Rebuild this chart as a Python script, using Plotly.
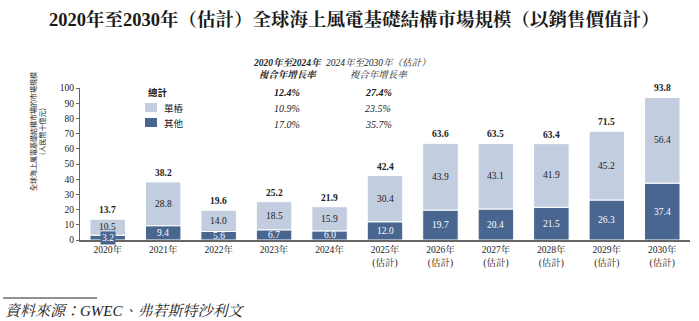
import plotly.graph_objects as go

years = ["2020年", "2021年", "2022年", "2023年", "2024年", "2025年<br>(估計)", "2026年<br>(估計)",
         "2027年<br>(估計)", "2028年<br>(估計)", "2029年<br>(估計)", "2030年<br>(估計)"]
other = [3.2, 9.4, 5.6, 6.7, 6.0, 12.0, 19.7, 20.4, 21.5, 26.3, 37.4]
monopile = [10.5, 28.8, 14.0, 18.5, 15.9, 30.4, 43.9, 43.1, 41.9, 45.2, 56.4]
totals = [13.7, 38.2, 19.6, 25.2, 21.9, 42.4, 63.6, 63.5, 63.4, 71.5, 93.8]

cagr_headers = ["2020年至2024年<br>複合年增長率", "2024年至2030年（估計）<br>複合年增長率"]
cagr_total = ["12.4%", "27.4%"]
cagr_mono = ["10.9%", "23.5%"]
cagr_other = ["17.0%", "35.7%"]

DARK = "#48668f"
LIGHT = "#c3cde0"
SERIF = "Liberation Serif, Noto Serif CJK TC, Noto Sans CJK TC, serif"
CJK = "Noto Sans CJK TC, Liberation Serif, serif"

fig = go.Figure()
fig.add_bar(x=years, y=other, name="其他", marker=dict(color=DARK, line=dict(color="white", width=1)),
            width=0.64, hoverinfo="skip")
fig.add_bar(x=years, y=monopile, name="單樁", base=other,
            marker=dict(color=LIGHT, line=dict(color="white", width=1)), width=0.64, hoverinfo="skip")

ann = []
for i, yr in enumerate(years):
    a = dict(x=yr, y=other[i] / 2, text=f"{other[i]:.1f}", showarrow=False,
             font=dict(family=SERIF, size=9.5, color="white"), xref="x", yref="y")
    if other[i] < 5:
        a.update(bgcolor=DARK, borderpad=1)
    ann.append(a)
    ann.append(dict(x=yr, y=other[i] + monopile[i] / 2, text=f"{monopile[i]:.1f}", showarrow=False,
                    font=dict(family=SERIF, size=9.5, color="#222"), xref="x", yref="y"))
    ann.append(dict(x=yr, y=totals[i], text=f"<b>{totals[i]:.1f}</b>", showarrow=False, yshift=9,
                    font=dict(family=SERIF, size=9.5, color="#222"), xref="x", yref="y"))

def px(xp, yp):
    return (xp - 80) / 610, (240 - yp) / 152

# title
ann.append(dict(x=px(354, 0)[0], xref="paper", y=px(0, 20)[1], yref="paper", showarrow=False,
                text="<b>2020年至2030年（估計）全球海上風電基礎結構市場規模（以銷售價值計）</b>",
                font=dict(family=SERIF, size=18.5, color="#1a1a1a"), xanchor="center", yanchor="middle"))

# CAGR table
for j, cx in enumerate([287, 378]):
    x0, _ = px(cx, 0)
    hdr = cagr_headers[j]
    if j == 0:
        hdr = "<b>" + hdr.replace("<br>", "</b><br><b>") + "</b>"
    ann.append(dict(x=x0, xref="paper", y=px(0, 68)[1], yref="paper", showarrow=False,
                    text="<i>" + hdr + "</i>", font=dict(family=SERIF, size=9.5, color="#222"),
                    xanchor="center", yanchor="middle"))
    for val, yp, bold in [(cagr_total[j], 92, True), (cagr_mono[j], 108, False), (cagr_other[j], 124, False)]:
        t = f"<i>{val}</i>"
        if bold:
            t = f"<b>{t}</b>"
        ann.append(dict(x=x0, xref="paper", y=px(0, yp)[1], yref="paper", showarrow=False,
                        text=t, font=dict(family=SERIF, size=10, color="#222"),
                        xanchor="center", yanchor="middle"))

# legend
ann.append(dict(x=px(146, 0)[0], xref="paper", y=px(0, 92)[1], yref="paper", showarrow=False,
                text="<b>總計</b>", font=dict(family=CJK, size=9.5, color="#222"), xanchor="left", yanchor="middle"))
shapes = []
for name, col, yp in [("單樁", LIGHT, 107.5), ("其他", DARK, 122.5)]:
    xa, ya = px(145, yp - 4.5)
    xb, yb = px(157, yp + 4.5)
    shapes.append(dict(type="rect", xref="paper", yref="paper", x0=xa, x1=xb, y0=yb, y1=ya,
                       fillcolor=col, line=dict(width=0)))
    ann.append(dict(x=px(162, 0)[0], xref="paper", y=px(0, yp)[1], yref="paper", showarrow=False,
                    text=name, font=dict(family=CJK, size=9.5, color="#222"), xanchor="left", yanchor="middle"))

# y-axis title
ann.append(dict(x=px(37, 0)[0], xref="paper", y=px(0, 132)[1], yref="paper", showarrow=False,
                text="全球海上風電基礎結構市場的市場規模<br>(人民幣十億元)", textangle=-90,
                font=dict(family=CJK, size=7, color="#222"), xanchor="center", yanchor="middle"))

# source
shapes.append(dict(type="line", xref="paper", yref="paper", x0=px(3, 0)[0], x1=px(97, 0)[0],
                   y0=px(0, 298)[1], y1=px(0, 298)[1], line=dict(color="#222", width=1)))
ann.append(dict(x=px(3, 0)[0], xref="paper", y=px(0, 311)[1], yref="paper", showarrow=False,
                text="<i>資料來源：GWEC、弗若斯特沙利文</i>", font=dict(family=SERIF, size=15, color="#222"),
                xanchor="left", yanchor="middle"))

fig.update_layout(
    barmode="overlay",
    width=699, height=321,
    margin=dict(l=80, r=9, t=88, b=81),
    paper_bgcolor="white", plot_bgcolor="white",
    showlegend=False,
    annotations=ann, shapes=shapes,
    xaxis=dict(range=[-0.5, 10.5], showline=True, linecolor="#666", linewidth=1.5, ticks="",
               tickfont=dict(family=SERIF, size=9.5, color="#222"), showgrid=False, fixedrange=True),
    yaxis=dict(range=[0, 100], dtick=10, showline=True, linecolor="#666", linewidth=1, ticks="outside",
               ticklen=3, tickcolor="#666", showgrid=False, zeroline=False,
               tickfont=dict(family=SERIF, size=9.5, color="#222"), fixedrange=True),
)

fig.write_html("out.html")
